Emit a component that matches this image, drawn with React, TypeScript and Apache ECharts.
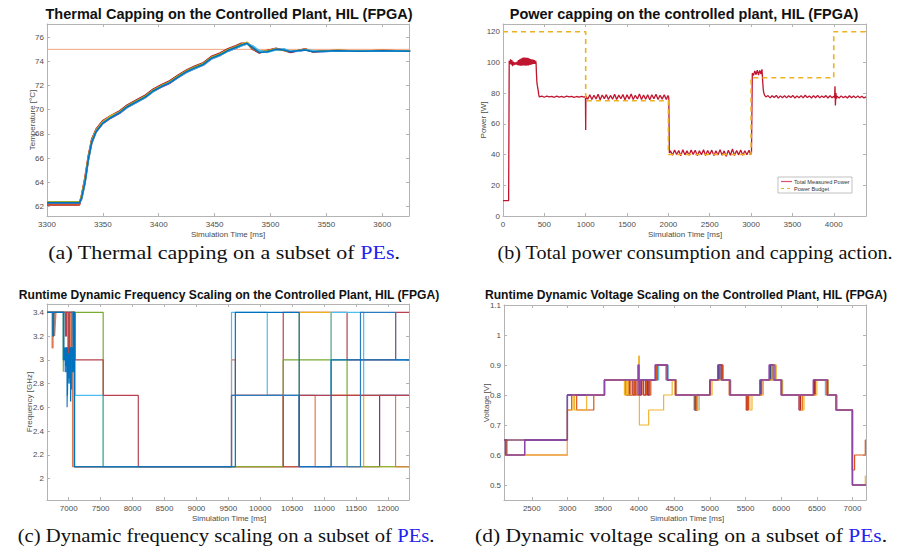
import React, { useEffect, useRef } from "react";
import * as echarts from "echarts";

const COL = {
  blue: "#0072BD",
  orange: "#D95319",
  yellow: "#EDB120",
  purple: "#7E2F8E",
  green: "#77AC30",
  lightblue: "#4DBEEE",
  red: "#A2142F",
};

// ---------- (a) thermal capping ----------
const thermalTime = [3300, 3329, 3331, 3334, 3337, 3340, 3344, 3350, 3357, 3365, 3372, 3380, 3388, 3395, 3402, 3410, 3418, 3425, 3432, 3440, 3447, 3455, 3462, 3469, 3474, 3479, 3484, 3490, 3497, 3505, 3512, 3518, 3525, 3531, 3538, 3545, 3560, 3580, 3600, 3625];
const thermalRed = [62.12, 62.12, 62.95, 64.4, 66.2, 67.55, 68.4, 69.1, 69.5, 69.9, 70.4, 70.8, 71.2, 71.7, 72.05, 72.4, 72.9, 73.3, 73.6, 73.9, 74.4, 74.7, 75.05, 75.3, 75.5, 75.5, 75.0, 74.7, 74.9, 75.1, 74.9, 74.75, 74.9, 75.05, 74.78, 74.85, 74.9, 74.86, 74.9, 74.86];
const thermalOrange = [62.15, 62.15, 62.9, 64.3, 66.1, 67.5, 68.35, 69.05, 69.45, 69.85, 70.35, 70.75, 71.15, 71.65, 72.0, 72.35, 72.85, 73.25, 73.55, 73.85, 74.35, 74.65, 75.0, 75.25, 75.45, 75.55, 75.05, 74.75, 74.9, 75.05, 74.95, 74.8, 74.9, 75.0, 74.8, 74.85, 74.9, 74.85, 74.9, 74.85];
const thermalYellow = [62.38, 62.38, 62.85, 64.2, 66.0, 67.4, 68.3, 69.0, 69.5, 69.8, 70.3, 70.7, 71.1, 71.6, 71.95, 72.3, 72.8, 73.2, 73.5, 73.8, 74.3, 74.6, 74.95, 75.2, 75.4, 75.6, 75.2, 74.8, 74.85, 75.05, 74.9, 74.85, 74.9, 75.0, 74.85, 74.85, 74.9, 74.87, 74.9, 74.87];
const thermalPurple = [62.25, 62.25, 62.6, 63.9, 65.8, 67.2, 68.15, 68.85, 69.3, 69.7, 70.2, 70.6, 71.0, 71.5, 71.85, 72.2, 72.7, 73.1, 73.4, 73.7, 74.2, 74.5, 74.85, 75.1, 75.3, 75.45, 75.25, 74.85, 74.8, 75.0, 75.0, 74.8, 74.85, 74.95, 74.85, 74.8, 74.88, 74.85, 74.88, 74.85];
const thermalGreen = [62.35, 62.35, 62.8, 64.1, 66.0, 67.4, 68.25, 68.95, 69.4, 69.8, 70.3, 70.7, 71.1, 71.6, 71.95, 72.3, 72.8, 73.2, 73.5, 73.8, 74.3, 74.6, 74.95, 75.2, 75.4, 75.5, 75.1, 74.8, 74.85, 75.0, 74.95, 74.85, 74.9, 74.95, 74.85, 74.85, 74.9, 74.86, 74.89, 74.86];
const thermalLightblue = [62.3, 62.3, 62.65, 63.95, 65.85, 67.25, 68.2, 68.9, 69.35, 69.75, 70.2, 70.6, 71.0, 71.5, 71.9, 72.25, 72.7, 73.1, 73.4, 73.7, 74.2, 74.5, 74.85, 75.1, 75.3, 75.45, 75.3, 74.9, 74.75, 74.95, 75.05, 74.85, 74.85, 74.95, 74.9, 74.8, 74.87, 74.84, 74.87, 74.84];
const thermalBlue = [62.3, 62.3, 62.7, 64.0, 65.9, 67.3, 68.2, 68.9, 69.35, 69.75, 70.25, 70.65, 71.05, 71.55, 71.9, 72.25, 72.75, 73.15, 73.45, 73.75, 74.25, 74.55, 74.9, 75.15, 75.35, 75.5, 75.15, 74.75, 74.8, 75.0, 74.95, 74.8, 74.9, 74.95, 74.8, 74.85, 74.88, 74.85, 74.88, 74.85];
const thermalCapLine = [[3300, 75], [3625, 75]];

// ---------- (b) power capping ----------
const powerMeasured = [
  [0, 10], [68, 10], [72, 60], [75, 101],
  [83, 99], [91, 102], [99, 98.5], [107, 101.5], [115, 97.5], [123, 100.5], [131, 98.2], [139, 100], [147, 98.6], [155, 100], [163, 98.6], [171, 100.5], [179, 98.2], [187, 101.5], [195, 98], [203, 102], [211, 97.8], [219, 102.5], [227, 97.8], [235, 103], [243, 98], [251, 103.2], [259, 98], [267, 103.2], [275, 97.9], [283, 103], [291, 98], [299, 103], [307, 98], [315, 102.6], [323, 98.3], [331, 102.2], [339, 98.5], [347, 102], [355, 98.8], [363, 101.8], [371, 99], [379, 101.5], [387, 99], [395, 101], [400, 99.5],
  [405, 92], [410, 87], [415, 85], [425, 82], [432, 79], [440, 77.5],
  [470, 78], [500, 77.3], [530, 78.1], [560, 77.5], [590, 77.9], [620, 77.3], [650, 78], [680, 77.4], [710, 77.9], [740, 77.3], [770, 78], [800, 77.5], [830, 77.9], [860, 77.3], [890, 77.8], [920, 77.4], [950, 77.9], [980, 77.4], [997, 77.8], [1000, 56], [1003, 78],
  [1025, 76], [1050, 79], [1075, 75.8], [1100, 78.6], [1125, 76.2], [1150, 79.2], [1175, 75.7], [1200, 78.8], [1225, 76.4], [1250, 79], [1275, 75.9], [1300, 78.5], [1325, 76], [1350, 79.3], [1375, 75.8], [1400, 78.7], [1425, 76.3], [1450, 79.1], [1475, 75.6], [1500, 78.9], [1525, 76.1], [1550, 79.4], [1575, 75.8], [1600, 78.6], [1625, 76.2], [1650, 79.5], [1675, 75.9], [1700, 78.8], [1725, 76], [1750, 79], [1775, 75.7], [1800, 78.9], [1825, 76.3], [1850, 79.2], [1875, 75.9], [1900, 78.6], [1925, 76.1], [1950, 79], [1975, 75.8], [1995, 78.5],
  [2005, 77], [2012, 41],
  [2025, 42.5], [2050, 39.5], [2075, 43], [2100, 40], [2125, 42.6], [2150, 39.2], [2175, 43.2], [2200, 39.8], [2225, 42.4], [2250, 39.5], [2275, 43], [2300, 40.1], [2325, 42.8], [2350, 39.3], [2375, 42.5], [2400, 39.9], [2425, 43.1], [2450, 39.4], [2475, 42.6], [2500, 40], [2525, 42.9], [2550, 39.3], [2575, 42.5], [2600, 39.7], [2625, 43.2], [2650, 39.5], [2675, 42.4], [2700, 38.8], [2725, 42.8], [2750, 39.6], [2775, 43.6], [2800, 39.4], [2825, 42.7], [2850, 39.8], [2875, 43], [2900, 39.5], [2925, 42.5], [2950, 39.9], [2975, 42.8], [2995, 40],
  [3005, 41], [3015, 93],
  [3030, 91.5], [3045, 94.5], [3060, 92], [3075, 95], [3090, 91.8], [3105, 94.8], [3120, 92.5], [3132, 95.5], [3140, 88], [3148, 82], [3155, 80], [3165, 78.5], [3180, 77.5],
  [3205, 78.4], [3230, 76.9], [3255, 78.3], [3280, 77.1], [3305, 78.5], [3330, 76.8], [3355, 78.2], [3380, 77], [3405, 78.4], [3430, 76.9], [3455, 78.3], [3480, 77.2], [3505, 78.5], [3530, 76.8], [3555, 78.1], [3580, 77], [3605, 78.4], [3630, 76.9], [3655, 78.6], [3680, 77.1], [3705, 78.2], [3730, 76.8], [3755, 78.4], [3780, 77], [3805, 78.5], [3830, 76.9], [3855, 78.2], [3880, 77.1], [3905, 78.4], [3930, 76.8], [3955, 78.3], [3980, 77], [4000, 78],
  [4010, 77], [4015, 84.5], [4020, 72], [4026, 80], [4033, 76.5], [4040, 78],
  [4065, 76.8], [4090, 78.2], [4115, 77], [4140, 78], [4165, 76.8], [4190, 78.3], [4215, 77], [4240, 78.1], [4265, 76.9], [4290, 78.2], [4315, 77], [4340, 78], [4365, 76.9], [4390, 77.6],
];
const powerBudget = [[0, 120], [1000, 120], [1000, 75], [2000, 75], [2000, 40], [3000, 40], [3000, 90], [4000, 90], [4000, 120], [4390, 120]];

// ---------- (c) frequency scaling ----------
const freqRedB = [[6660, 3.4], [7090, 3.4], [7090, 2.1], [10360, 2.1], [10360, 3.4], [11360, 3.4], [11360, 3.0], [12120, 3.0], [12120, 3.4], [12330, 3.4]];
const freqPurple = [[6660, 3.4], [7090, 3.4], [7090, 2.1], [11870, 2.1], [11870, 2.7], [12330, 2.7]];
const freqYellow = [[6660, 3.4], [7090, 3.4], [7090, 2.1], [10610, 2.1], [10610, 3.4], [11110, 3.4], [11110, 2.7], [11620, 2.7], [11620, 2.1], [12330, 2.1]];
const freqGreen = [[6660, 3.4], [6915, 3.4], [6915, 2.9], [6925, 2.9], [6925, 3.4], [6995, 3.4], [6995, 2.85], [7010, 2.85], [7010, 3.4], [7540, 3.4], [7540, 2.1], [10360, 2.1], [10360, 3.0], [11360, 3.0], [11360, 2.1], [12330, 2.1]];
const freqOrange = [[6660, 3.4], [6740, 3.4], [6740, 3.1], [6755, 3.1], [6755, 3.4], [6780, 3.4], [6780, 3.2], [6790, 3.2], [6790, 3.3], [6800, 3.3], [6800, 3.4], [7020, 3.4], [7020, 2.8], [7040, 2.8], [7040, 3.4], [7060, 3.4], [7060, 2.1], [9550, 2.1], [9550, 3.0], [9610, 3.0], [9610, 2.7], [10860, 2.7], [10860, 2.1], [11110, 2.1], [11110, 2.7], [12120, 2.7], [12120, 2.1], [12330, 2.1]];
const freqLightblue = [[6660, 3.4], [7100, 3.4], [7100, 2.7], [7540, 2.7], [7540, 2.1], [9550, 2.1], [9550, 3.4], [10110, 3.4], [10110, 2.7], [11110, 2.7], [11110, 3.4], [11620, 3.4], [11620, 2.7], [12330, 2.7]];
const freqRedA = [[6660, 3.4], [6950, 3.4], [6950, 3.2], [6965, 3.2], [6965, 3.4], [6990, 3.4], [6990, 2.9], [7010, 2.9], [7010, 3.4], [7100, 3.4], [7100, 3.0], [7540, 3.0], [7540, 2.7], [8090, 2.7], [8090, 2.1], [9550, 2.1], [9550, 2.7], [10360, 2.7], [10360, 2.1], [10610, 2.1], [10610, 2.7], [12330, 2.7]];
const freqBlue2 = [[6660, 3.4], [6925, 3.4], [6925, 3.05], [6945, 3.05], [6945, 2.9], [6960, 2.9], [6960, 3.1], [6975, 3.1], [6975, 2.6], [6985, 2.6], [6985, 3.0], [7000, 3.0], [7000, 2.85], [7020, 2.85], [7020, 3.1], [7045, 3.1], [7045, 2.75], [7055, 2.75], [7055, 3.4], [7090, 3.4], [7090, 2.1], [9550, 2.1], [9550, 2.7], [10610, 2.7], [10610, 2.1], [11570, 2.1], [11570, 3.4], [12120, 3.4], [12120, 3.0], [12330, 3.0]];
const freqBlue1 = [[6660, 3.4], [6750, 3.4], [6750, 3.2], [6765, 3.2], [6765, 3.4], [6915, 3.4], [6915, 3.0], [6935, 3.0], [6935, 3.1], [6950, 3.1], [6950, 2.95], [6965, 2.95], [6965, 3.1], [6980, 3.1], [6980, 2.7], [6990, 2.7], [6990, 3.05], [7005, 3.05], [7005, 2.8], [7015, 2.8], [7015, 3.1], [7030, 3.1], [7030, 2.65], [7040, 2.65], [7040, 3.1], [7060, 3.1], [7060, 2.9], [7075, 2.9], [7075, 3.4], [7090, 3.4], [7090, 2.1], [9610, 2.1], [9610, 3.4], [10610, 3.4], [10610, 2.1], [11110, 2.1], [11110, 3.0], [12330, 3.0]];

// ---------- (d) voltage scaling ----------
const voltLightblue = [[2110, 0.65], [3000, 0.65], [3000, 0.8], [3520, 0.8], [3520, 0.85], [4280, 0.85], [4280, 0.9], [4380, 0.9], [4380, 0.85], [4520, 0.85], [4520, 0.8], [4800, 0.8], [4800, 0.75], [4830, 0.75], [4830, 0.8], [5000, 0.8], [5000, 0.85], [5120, 0.85], [5120, 0.9], [5150, 0.9], [5150, 0.85], [5280, 0.85], [5280, 0.8], [5710, 0.8], [5710, 0.85], [5850, 0.85], [5850, 0.9], [5880, 0.9], [5880, 0.85], [6020, 0.85], [6020, 0.8], [6460, 0.8], [6460, 0.85], [6620, 0.85], [6620, 0.8], [6770, 0.8], [6770, 0.75], [7000, 0.75], [7000, 0.5], [7190, 0.5]];
const voltBlue = [[2110, 0.65], [2150, 0.65], [2150, 0.6], [2400, 0.6], [2400, 0.65], [3000, 0.65], [3000, 0.8], [3520, 0.8], [3520, 0.85], [3830, 0.85], [3830, 0.8], [3900, 0.8], [3900, 0.85], [4120, 0.85], [4120, 0.8], [4150, 0.8], [4150, 0.85], [4260, 0.85], [4260, 0.9], [4410, 0.9], [4410, 0.85], [4530, 0.85], [4530, 0.8], [4780, 0.8], [4780, 0.75], [4810, 0.75], [4810, 0.8], [5000, 0.8], [5000, 0.85], [5120, 0.85], [5120, 0.9], [5170, 0.9], [5170, 0.85], [5290, 0.85], [5290, 0.8], [5710, 0.8], [5710, 0.85], [5850, 0.85], [5850, 0.9], [5920, 0.9], [5920, 0.85], [6010, 0.85], [6010, 0.8], [6460, 0.8], [6460, 0.85], [6660, 0.85], [6660, 0.8], [6780, 0.8], [6780, 0.75], [7000, 0.75], [7000, 0.5], [7190, 0.5]];
const voltRed = [[2110, 0.65], [2400, 0.65], [3000, 0.65], [3000, 0.8], [3520, 0.8], [3520, 0.85], [3870, 0.85], [3870, 0.8], [3900, 0.8], [3900, 0.85], [3920, 0.85], [3920, 0.8], [3960, 0.8], [3960, 0.85], [3990, 0.85], [3990, 0.8], [4040, 0.8], [4040, 0.85], [4070, 0.85], [4070, 0.8], [4100, 0.8], [4100, 0.85], [4130, 0.85], [4130, 0.8], [4150, 0.8], [4150, 0.85], [4240, 0.85], [4240, 0.9], [4400, 0.9], [4400, 0.85], [4520, 0.85], [4520, 0.8], [4800, 0.8], [4800, 0.75], [4815, 0.75], [4815, 0.8], [5000, 0.8], [5000, 0.85], [5130, 0.85], [5130, 0.9], [5180, 0.9], [5180, 0.85], [5280, 0.85], [5280, 0.8], [5510, 0.8], [5510, 0.75], [5530, 0.75], [5530, 0.8], [5720, 0.8], [5720, 0.85], [5840, 0.85], [5840, 0.9], [5890, 0.9], [5890, 0.85], [6000, 0.85], [6000, 0.8], [6250, 0.8], [6250, 0.75], [6270, 0.75], [6270, 0.8], [6470, 0.8], [6470, 0.85], [6650, 0.85], [6650, 0.8], [6770, 0.8], [6770, 0.75], [7000, 0.75], [7000, 0.5], [7190, 0.5]];
const voltOrange = [[2110, 0.65], [2140, 0.65], [2140, 0.6], [3000, 0.6], [3000, 0.75], [3060, 0.75], [3060, 0.8], [3130, 0.8], [3130, 0.75], [3370, 0.75], [3370, 0.8], [3520, 0.8], [3520, 0.85], [3820, 0.85], [3820, 0.8], [3860, 0.8], [3860, 0.85], [3880, 0.85], [3880, 0.8], [3940, 0.8], [3940, 0.85], [3960, 0.85], [3960, 0.8], [4030, 0.8], [4030, 0.85], [4060, 0.85], [4060, 0.8], [4110, 0.8], [4110, 0.85], [4150, 0.85], [4150, 0.8], [4170, 0.8], [4170, 0.85], [4250, 0.85], [4250, 0.9], [4400, 0.9], [4400, 0.85], [4510, 0.85], [4510, 0.8], [4790, 0.8], [4790, 0.75], [4820, 0.75], [4820, 0.8], [5010, 0.8], [5010, 0.85], [5140, 0.85], [5140, 0.9], [5180, 0.9], [5180, 0.85], [5270, 0.85], [5270, 0.8], [5520, 0.8], [5520, 0.75], [5540, 0.75], [5540, 0.8], [5730, 0.8], [5730, 0.85], [5870, 0.85], [5870, 0.9], [5920, 0.9], [5920, 0.85], [6010, 0.85], [6010, 0.8], [6260, 0.8], [6260, 0.75], [6300, 0.75], [6300, 0.8], [6480, 0.8], [6480, 0.85], [6640, 0.85], [6640, 0.8], [6770, 0.8], [6770, 0.75], [6995, 0.75], [6995, 0.55], [7030, 0.55], [7030, 0.6], [7180, 0.6], [7180, 0.65], [7190, 0.65]];
const voltYellow = [[2110, 0.6], [3000, 0.6], [3000, 0.75], [3080, 0.75], [3080, 0.8], [3100, 0.8], [3100, 0.75], [3270, 0.75], [3270, 0.8], [3520, 0.8], [3520, 0.85], [3800, 0.85], [3800, 0.8], [3830, 0.8], [3830, 0.85], [3850, 0.85], [3850, 0.8], [3900, 0.8], [3900, 0.85], [4000, 0.85], [4000, 0.93], [4010, 0.93], [4010, 0.7], [4140, 0.7], [4140, 0.75], [4350, 0.75], [4350, 0.8], [4470, 0.8], [4470, 0.85], [4530, 0.85], [4530, 0.8], [4820, 0.8], [4820, 0.75], [4850, 0.75], [4850, 0.8], [5030, 0.8], [5030, 0.85], [5280, 0.85], [5280, 0.8], [5560, 0.8], [5560, 0.75], [5590, 0.75], [5590, 0.8], [5750, 0.8], [5750, 0.85], [5890, 0.85], [5890, 0.9], [5930, 0.9], [5930, 0.85], [6010, 0.85], [6010, 0.8], [6290, 0.8], [6290, 0.75], [6320, 0.75], [6320, 0.8], [6500, 0.8], [6500, 0.85], [6660, 0.85], [6660, 0.8], [6770, 0.8], [6770, 0.75], [7000, 0.75], [7000, 0.5], [7180, 0.5], [7180, 0.53], [7190, 0.53]];
const voltPurple = [[2110, 0.65], [2130, 0.65], [2130, 0.6], [2400, 0.6], [2400, 0.65], [3000, 0.65], [3000, 0.8], [3520, 0.8], [3520, 0.85], [3990, 0.85], [3990, 0.9], [4005, 0.9], [4005, 0.8], [4020, 0.8], [4020, 0.85], [4230, 0.85], [4230, 0.9], [4400, 0.9], [4400, 0.85], [4520, 0.85], [4520, 0.8], [5000, 0.8], [5000, 0.85], [5110, 0.85], [5110, 0.9], [5160, 0.9], [5160, 0.85], [5280, 0.85], [5280, 0.8], [5700, 0.8], [5700, 0.85], [5830, 0.85], [5830, 0.9], [5900, 0.9], [5900, 0.85], [6000, 0.85], [6000, 0.8], [6450, 0.8], [6450, 0.85], [6650, 0.85], [6650, 0.8], [6770, 0.8], [6770, 0.75], [7000, 0.75], [7000, 0.5], [7190, 0.5]];

// ---------- layout / text ----------
const TITLES = [
  "Thermal Capping on the Controlled Plant, HIL (FPGA)",
  "Power capping on the controlled plant, HIL (FPGA)",
  "Runtime Dynamic Frequency Scaling on the Controlled Plant, HIL (FPGA)",
  "Runtime Dynamic Voltage Scaling on the Controlled Plant, HIL (FPGA)",
];
const CAPTIONS = [
  "(a) Thermal capping on a subset of {pe|PEs}.",
  "(b) Total power consumption and capping action.",
  "(c) Dynamic frequency scaling on a subset of {pe|PEs}.",
  "(d) Dynamic voltage scaling on a subset of {pe|PEs}.",
];
const Y_NAMES = ["Temperature [°C]", "Power [W]", "Frequency [GHz]", "Voltage [V]"];
const X_NAME = "Simulation Time [ms]";
const LEGEND_NAMES = ["Total Measured Power", "Power Budget"];

const GRIDS = [
  { left: 47, top: 24, width: 362, height: 192 },
  { left: 503, top: 24, width: 363, height: 192 },
  { left: 47, top: 304, width: 362, height: 196 },
  { left: 504, top: 305, width: 362, height: 195 },
];
const X_RANGES = [[3300, 3624, 50], [0, 4390, 500], [6660, 12330, 500], [2110, 7190, 500]];
const Y_RANGES = [[61.2, 77.1, 2], [0, 125, 20], [1.82, 3.47, 0.2], [0.45, 1.1, 0.1]];

const AX = "#b3b3b3";
const LBL = "#4d4d4d";
const SANS = "Liberation Sans";
const SERIF = "Liberation Serif";
const MEASURED_COLOR = "#C0152F";

function isMultiple(v: number, step: number) {
  return Math.abs(v / step - Math.round(v / step)) < 1e-9;
}

function makeAxes(dim: "x" | "y") {
  const out: any[] = [];
  GRIDS.forEach((_, g) => {
    const r = dim === "x" ? X_RANGES[g] : Y_RANGES[g];
    const common = {
      type: "value",
      gridIndex: g,
      min: r[0],
      max: r[1],
      minInterval: r[2],
      maxInterval: r[2],
      scale: true,
      splitLine: { show: false },
      axisLine: { show: true, onZero: false, lineStyle: { color: AX, width: 1 } },
      axisTick: { show: true, inside: true, length: 3, lineStyle: { color: AX } },
    };
    out.push({
      ...common,
      position: dim === "x" ? "bottom" : "left",
      axisLabel: {
        show: true,
        fontSize: 8,
        color: LBL,
        fontFamily: SANS,
        margin: dim === "x" ? 4 : 3,
        showMinLabel: isMultiple(r[0], r[2]),
        showMaxLabel: isMultiple(r[1], r[2]),
        formatter: (v: number) => String(Number(v.toFixed(6))),
      },
    });
    out.push({
      ...common,
      position: dim === "x" ? "top" : "right",
      axisLabel: { show: false },
    });
  });
  return out;
}

function line(g: number, data: any[], color: string, width = 1.2, extra: any = {}) {
  return {
    type: "line",
    xAxisIndex: g * 2,
    yAxisIndex: g * 2,
    data,
    symbol: "none",
    showSymbol: false,
    silent: true,
    clip: true,
    lineStyle: { color, width },
    itemStyle: { color },
    emphasis: { disabled: true },
    ...extra,
  };
}

const zip = (xs: number[], ys: number[]) => xs.map((x, i) => [x, ys[i]]);

function measure(text: string, font: string) {
  const c = document.createElement("canvas").getContext("2d");
  if (!c) return text.length * 8;
  c.font = font;
  return c.measureText(text).width;
}

export default function App() {
  const ref = useRef<HTMLDivElement>(null);
  useEffect(() => {
    if (!ref.current) return;
    const chart = echarts.init(ref.current, undefined, { renderer: "svg" });

    const series: any[] = [
      // (a)
      line(0, thermalCapLine, "#F3A47F", 1),
      line(0, zip(thermalTime, thermalRed), COL.red, 1.6),
      line(0, zip(thermalTime, thermalOrange), COL.orange, 1.6),
      line(0, zip(thermalTime, thermalYellow), COL.yellow, 1.6),
      line(0, zip(thermalTime, thermalPurple), COL.purple, 1.6),
      line(0, zip(thermalTime, thermalGreen), COL.green, 1.6),
      line(0, zip(thermalTime, thermalLightblue), COL.lightblue, 1.6),
      line(0, zip(thermalTime, thermalBlue), COL.blue, 1.5),
      // (b)
      line(1, powerMeasured, MEASURED_COLOR, 1.3, { name: LEGEND_NAMES[0] }),
      line(1, powerBudget, COL.yellow, 1.6, {
        name: LEGEND_NAMES[1],
        lineStyle: { color: COL.yellow, width: 1.6, type: [5, 4] },
      }),
      // (c)
      line(2, freqRedB, "#B8404F", 1.2),
      line(2, freqPurple, COL.purple, 1.2),
      line(2, freqYellow, COL.yellow, 1.2),
      line(2, freqGreen, COL.green, 1.2),
      line(2, freqOrange, "#E07A50", 1.2),
      line(2, freqLightblue, COL.lightblue, 1.2),
      line(2, freqRedA, "#B8404F", 1.2),
      line(2, freqBlue2, "#2B7BC0", 1.2),
      line(2, freqBlue1, COL.blue, 1.2),
      // (d)
      line(3, voltLightblue, COL.lightblue, 1.2),
      line(3, voltBlue, COL.blue, 1.2),
      line(3, voltRed, COL.red, 1.2),
      line(3, voltOrange, COL.orange, 1.2),
      line(3, voltYellow, "#F2B530", 1.2),
      line(3, voltPurple, "#8E45A8", 1.4),
    ];

    const graphics: any[] = [];
    const titlePos = [
      [229, 14, 14.5],
      [684, 14, 14.5],
      [229, 295, 12.1],
      [686, 295, 12.1],
    ];
    titlePos.forEach((p, i) => {
      graphics.push({
        type: "text",
        x: p[0],
        y: p[1],
        style: {
          text: TITLES[i],
          fontSize: p[2],
          fontWeight: "bold",
          fontFamily: SANS,
          fill: "#111",
          textAlign: "center",
          textVerticalAlign: "middle",
        },
      });
    });
    // caption center x, center y, target width
    const capPos = [
      [224, 253, 352],
      [695, 253, 396],
      [226, 535, 417],
      [681, 535, 412],
    ];
    const capSize = 19;
    capPos.forEach((p, i) => {
      const plain = CAPTIONS[i].replace(/\{pe\|([^}]*)\}/g, "$1");
      const w = measure(plain, `${capSize}px "${SERIF}"`);
      graphics.push({
        type: "text",
        x: p[0],
        y: p[1],
        scaleX: p[2] / w,
        style: {
          text: CAPTIONS[i],
          fontSize: capSize,
          fontFamily: SERIF,
          fill: "#111",
          textAlign: "center",
          textVerticalAlign: "middle",
          rich: {
            pe: { fill: "#2323F0", color: "#2323F0", fontSize: capSize, fontFamily: SERIF },
          },
        },
      });
    });
    const yNamePos = [
      [32, 120],
      [483, 120],
      [29, 402],
      [486, 403],
    ];
    yNamePos.forEach((p, i) => {
      graphics.push({
        type: "text",
        x: p[0],
        y: p[1],
        rotation: Math.PI / 2,
        style: {
          text: Y_NAMES[i],
          fontSize: 8,
          fontFamily: SANS,
          fill: LBL,
          textAlign: "center",
          textVerticalAlign: "middle",
        },
      });
    });
    const xNamePos = [
      [228, 234],
      [685, 234],
      [229, 518],
      [687, 518],
    ];
    xNamePos.forEach((p) => {
      graphics.push({
        type: "text",
        x: p[0],
        y: p[1],
        style: {
          text: X_NAME,
          fontSize: 8,
          fontFamily: SANS,
          fill: LBL,
          textAlign: "center",
          textVerticalAlign: "middle",
        },
      });
    });

    // legend of (b), drawn by hand (box at x 778..852, y 177..193)
    const lg = { x: 778, y: 177, w: 74, h: 16 };
    graphics.push({
      type: "rect",
      shape: { x: lg.x, y: lg.y, width: lg.w, height: lg.h },
      style: { fill: "#fff", stroke: "#a8a8a8", lineWidth: 0.7 },
      z: 10,
    });
    graphics.push({
      type: "line",
      shape: { x1: lg.x + 3, y1: lg.y + 4.5, x2: lg.x + 14, y2: lg.y + 4.5 },
      style: { stroke: "#E0506A", lineWidth: 1.2 },
      z: 11,
    });
    graphics.push({
      type: "line",
      shape: { x1: lg.x + 3, y1: lg.y + 11.5, x2: lg.x + 14, y2: lg.y + 11.5 },
      style: { stroke: COL.yellow, lineWidth: 1.2, lineDash: [3, 3] },
      z: 11,
    });
    LEGEND_NAMES.forEach((n, i) => {
      graphics.push({
        type: "text",
        x: lg.x + 16,
        y: lg.y + 4.5 + i * 7,
        z: 11,
        style: {
          text: n,
          fontSize: 5.6,
          fontFamily: SANS,
          fill: "#333",
          textAlign: "left",
          textVerticalAlign: "middle",
        },
      });
    });

    chart.setOption({
      animation: false,
      backgroundColor: "#ffffff",
      grid: GRIDS.map((g) => ({ ...g, containLabel: false })),
      xAxis: makeAxes("x"),
      yAxis: makeAxes("y"),
      series,
      graphic: graphics,
    });

    return () => chart.dispose();
  }, []);

  return (
    <div
      ref={ref}
      style={{ position: "absolute", left: 0, top: 0, width: 900, height: 552, background: "#fff" }}
    />
  );
}
